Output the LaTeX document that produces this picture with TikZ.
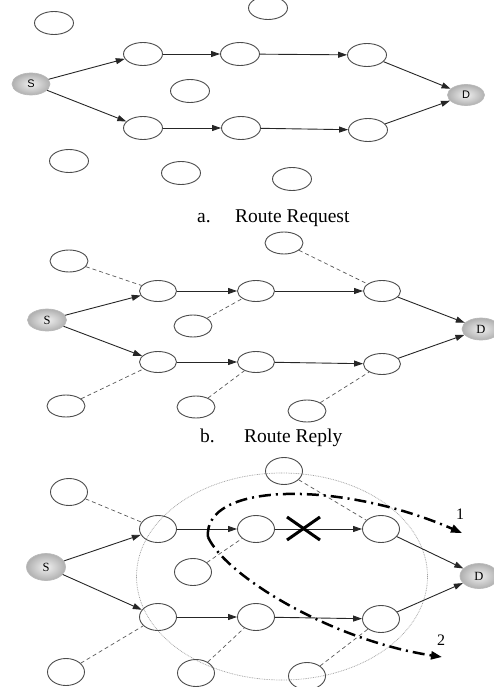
\documentclass[tikz,border=0pt]{standalone}
\usepackage{fontspec}
\setmainfont{Liberation Serif}
\newfontfamily\sansf{Liberation Sans}
\usetikzlibrary{shapes.geometric,arrows.meta}
\begin{document}
\begin{tikzpicture}[x=1pt,y=-1pt,
  nd/.style 2 args={ellipse,draw=black!70,line width=0.9pt,minimum width=#1,minimum height=#2,inner sep=0pt},
  sd/.style 2 args={ellipse,draw=gray!55,line width=0.7pt,inner color=gray!12,outer color=gray!62,minimum width=#1,minimum height=#2,inner sep=0pt,font=\fontsize{12.5}{12.5}\selectfont},
  arr/.style={-{Triangle[length=9pt,width=6pt]},line width=0.9pt,black!85},
  dsh/.style={dash pattern=on 4pt off 3pt,line width=0.7pt,black!65},
  capt/.style={font=\fontsize{19.5}{20}\selectfont,anchor=base west,inner sep=0pt},
  num/.style={font=\fontsize{16}{16}\selectfont,anchor=base west,inner sep=0pt},
  route/.style={line width=2.5pt,black,dash pattern=on 12pt off 5pt on 2pt off 5pt,-{Triangle[length=11pt,width=8pt]}},
  xmark/.style={line width=3pt,black}
]
\useasboundingbox (0,0) rectangle (493,687);

% ---------------- panel a ----------------
\node[nd={39pt}{23pt}] (ai1) at (54,23) {};
\node[nd={39pt}{23pt}] (ai2) at (268,8) {};
\node[nd={39pt}{23pt}] (ai3) at (190,91) {};
\node[nd={39pt}{23pt}] (ai4) at (69,161) {};
\node[nd={39pt}{23pt}] (ai5) at (181,173) {};
\node[nd={39pt}{23pt}] (ai6) at (292,179) {};
\node[sd={38pt}{22pt},font=\sansf\fontsize{11}{11}\selectfont] (aS) at (31,84) {S};
\node[sd={37pt}{21pt},font=\sansf\fontsize{11}{11}\selectfont] (aD) at (466,95) {D};
\node[nd={39pt}{23pt}] (a11) at (143,54) {};
\node[nd={39pt}{23pt}] (a12) at (240,54) {};
\node[nd={39pt}{23pt}] (a13) at (367,55) {};
\node[nd={39pt}{23pt}] (a21) at (143,128) {};
\node[nd={39pt}{23pt}] (a22) at (241,128) {};
\node[nd={39pt}{23pt}] (a23) at (368,130) {};
\draw[arr] (aS) -- (a11);
\draw[arr] (a11) -- (a12);
\draw[arr] (a12) -- (a13);
\draw[arr] (a13) -- (aD);
\draw[arr] (aS) -- (a21);
\draw[arr] (a21) -- (a22);
\draw[arr] (a22) -- (a23);
\draw[arr] (a23) -- (aD);
\node[capt] (acapa) at (197,222.5) {a.};
\node[capt] (acapb) at (235,222.5) {Route Request};

% ---------------- panel b ----------------
\node[nd={38pt}{22pt}] (bi1) at (69,261) {};
\node[nd={38pt}{22pt}] (bi2) at (284,243) {};
\node[nd={38pt}{22pt}] (bi3) at (193,326) {};
\node[nd={38pt}{22pt}] (bi4) at (66,406) {};
\node[nd={38pt}{22pt}] (bi5) at (196,407) {};
\node[nd={38pt}{22pt}] (bi6) at (307,411) {};
\node[sd={39pt}{22pt}] (bS) at (47,320) {S};
\node[sd={38pt}{22pt}] (bD) at (481,329) {D};
\node[nd={37pt}{21pt}] (b11) at (158,291) {};
\node[nd={37pt}{21pt}] (b12) at (256,291) {};
\node[nd={37pt}{21pt}] (b13) at (382,291) {};
\node[nd={37pt}{21pt}] (b21) at (158,362) {};
\node[nd={37pt}{21pt}] (b22) at (256,362) {};
\node[nd={37pt}{21pt}] (b23) at (382,364) {};
\draw[arr] (bS) -- (b11);
\draw[arr] (b11) -- (b12);
\draw[arr] (b12) -- (b13);
\draw[arr] (b13) -- (bD);
\draw[arr] (bS) -- (b21);
\draw[arr] (b21) -- (b22);
\draw[arr] (b22) -- (b23);
\draw[arr] (b23) -- (bD);
\draw[dsh] (bi1) -- (b11);
\draw[dsh] (bi2) -- (b13);
\draw[dsh] (bi3) -- (b12);
\draw[dsh] (bi4) -- (b21);
\draw[dsh] (bi5) -- (b22);
\draw[dsh] (bi6) -- (b23);
\node[capt] (bcapa) at (200,442.5) {b.};
\node[capt] (bcapb) at (244,442.5) {Route Reply};

% ---------------- panel c ----------------
\draw[gray!75,line width=0.7pt,dash pattern=on 0.8pt off 0.9pt] (282,576.5) ellipse [x radius=145.5pt, y radius=103.5pt];
\node[nd={37pt}{27pt}] (ci1) at (69,492) {};
\node[nd={37pt}{27pt}] (ci2) at (284,471) {};
\node[nd={37pt}{27pt}] (ci3) at (193,572) {};
\node[nd={37pt}{27pt}] (ci4) at (66,672) {};
\node[nd={37pt}{27pt}] (ci5) at (196,673) {};
\node[nd={37pt}{27pt}] (ci6) at (307,676) {};
\node[sd={39pt}{27pt}] (cS) at (46,567) {S};
\node[sd={38pt}{25pt}] (cD) at (479,576) {D};
\node[nd={37pt}{27pt}] (c11) at (158,529) {};
\node[nd={37pt}{27pt}] (c12) at (256,529) {};
\node[nd={37pt}{27pt}] (c13) at (381,529) {};
\node[nd={37pt}{27pt}] (c21) at (158,617) {};
\node[nd={37pt}{27pt}] (c22) at (256,617) {};
\node[nd={37pt}{27pt}] (c23) at (381,619) {};
\draw[arr] (cS) -- (c11);
\draw[arr] (c11) -- (c12);
\draw[arr] (c12) -- (c13);
\draw[arr] (c13) -- (cD);
\draw[arr] (cS) -- (c21);
\draw[arr] (c21) -- (c22);
\draw[arr] (c22) -- (c23);
\draw[arr] (c23) -- (cD);
\draw[dsh] (ci1) -- (c11);
\draw[dsh] (ci2) -- (c13);
\draw[dsh] (ci3) -- (c12);
\draw[dsh] (ci4) -- (c21);
\draw[dsh] (ci5) -- (c22);
\draw[dsh] (ci6) -- (c23);
% broken link cross
\coordinate (x1) at (287,517);
\coordinate (x2) at (320,540);
\coordinate (x3) at (287,540);
\coordinate (x4) at (320,517);
\draw[xmark] (x1) -- (x2);
\draw[xmark] (x3) -- (x4);
% alternate routes
\coordinate (rs) at (208,537);
\coordinate (r1) at (462,533);
\coordinate (r2) at (442,657);
\draw[route] (rs) .. controls (203,482) and (340,480) .. (r1);
\draw[route] (rs) .. controls (225,575) and (330,640) .. (r2);
\node[num] (n1) at (456,519) {1};
\node[num] (n2) at (437,645) {2};
\end{tikzpicture}
\end{document}
